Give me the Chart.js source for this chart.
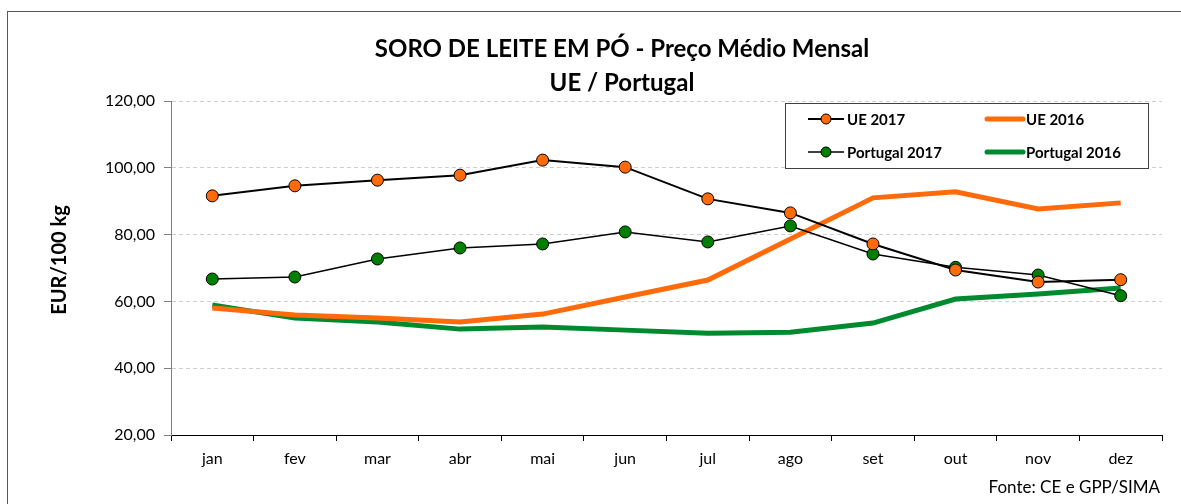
<!DOCTYPE html>
<html>
<head>
<meta charset="utf-8">
<script src="https://cdn.jsdelivr.net/npm/chart.js@4.4.1/dist/chart.umd.min.js"></script>
<style>
html, body { margin: 0; padding: 0; background: #fff; overflow: hidden; }
#wrap { position: relative; width: 1181px; height: 504px; }
#frame { position: absolute; left: 7px; top: 11px; width: 1200px; height: 600px; border: 1px solid #595959; }
#myChart { position: absolute; left: 0; top: 0; }
#title { position: absolute; left: 0; top: 31px; width: 1244px; text-align: center; font: bold 24px/34px Lato, sans-serif; color: #000; }
#ytitle { position: absolute; left: -42px; top: 248px; width: 200px; height: 24px; text-align: center; font: bold 20px/24px Lato, sans-serif; color: #000; transform: rotate(-90deg); }
#src { position: absolute; right: 21px; top: 476px; font: 17px Lato, sans-serif; color: #000; }
</style>
</head>
<body>
<div id="wrap">
  <div id="frame"></div>
  <canvas id="myChart" width="1181" height="504"></canvas>
  <div id="title">SORO DE LEITE EM PÓ - Preço Médio Mensal<br>UE / Portugal</div>
  <div id="ytitle">EUR/100 kg</div>
  <div id="src">Fonte: CE e GPP/SIMA</div>
</div>
<script>
// months
const months = ['jan', 'fev', 'mar', 'abr', 'mai', 'jun', 'jul', 'ago', 'set', 'out', 'nov', 'dez'];

// EUR/100 kg
const ue2017 = [91.6, 94.6, 96.3, 97.8, 102.3, 100.2, 90.7, 86.5, 77.2, 69.4, 65.8, 66.5];
const ue2016 = [58.0, 55.9, 55.0, 53.8, 56.2, 61.3, 66.4, 78.7, 91.0, 92.8, 87.7, 89.5];
const pt2017 = [66.7, 67.3, 72.7, 76.0, 77.2, 80.8, 77.8, 82.6, 74.2, 70.2, 67.9, 61.7];
const pt2016 = [58.9, 55.0, 53.8, 51.7, 52.3, 51.4, 50.5, 50.8, 53.5, 60.7, 62.2, 64.0];

const yTicks = [20, 40, 60, 80, 100, 120];

const ORANGE = '#FF6A0A';
const GREEN = '#008A30';
const FONT = 'Lato, sans-serif';

// legend drawn inside the plot, like the excel one
const legendBox = {
  id: 'legendBox',
  afterDatasetsDraw(chart) {
    const c = chart.ctx;
    const a = chart.chartArea;
    const x0 = a.right - 377, y0 = a.top + 2, w = 363, h = 65;
    c.save();
    c.fillStyle = '#fff';
    c.fillRect(x0, y0, w, h);
    c.strokeStyle = '#404040';
    c.lineWidth = 1;
    c.strokeRect(x0 + 0.5, y0 + 0.5, w, h);
    const slots = [[0, 0], [1, 0], [0, 1], [1, 1]];
    c.font = 'bold 15px ' + FONT;
    c.textBaseline = 'middle';
    chart.data.datasets.forEach((ds, i) => {
      const col = slots[i][0], row = slots[i][1];
      const lx = x0 + 23 + col * 179;
      const ly = y0 + 16 + row * 33;
      c.beginPath();
      c.moveTo(lx, ly);
      c.lineTo(lx + 36, ly);
      c.strokeStyle = ds.borderColor;
      c.lineWidth = ds.borderWidth;
      c.lineCap = ds.pointRadius ? 'butt' : 'round';
      c.stroke();
      if (ds.pointRadius) {
        c.beginPath();
        c.arc(lx + 18, ly, 5, 0, Math.PI * 2);
        c.fillStyle = ds.pointBackgroundColor;
        c.fill();
        c.lineWidth = 1;
        c.strokeStyle = '#000';
        c.stroke();
      }
      c.fillStyle = '#000';
      c.fillText(ds.label, lx + 39, ly + 1);
    });
    c.restore();
  }
};

const ctx = document.getElementById('myChart').getContext('2d');

const myChart = new Chart(ctx, {
  type: 'line',
  data: {
    labels: months,
    datasets: [{
      label: 'UE 2017',
      data: ue2017,
      borderColor: '#000',
      borderWidth: 2,
      pointRadius: 6,
      pointBackgroundColor: ORANGE,
      pointBorderColor: '#000',
      pointBorderWidth: 1,
      order: 1
    }, {
      label: 'UE 2016',
      data: ue2016,
      borderColor: ORANGE,
      borderWidth: 5,
      pointRadius: 0,
      order: 2
    }, {
      label: 'Portugal 2017',
      data: pt2017,
      borderColor: '#000',
      borderWidth: 1.5,
      pointRadius: 6,
      pointBackgroundColor: '#008000',
      pointBorderColor: '#000',
      pointBorderWidth: 1,
      order: 1
    }, {
      label: 'Portugal 2016',
      data: pt2016,
      borderColor: GREEN,
      borderWidth: 5,
      pointRadius: 0,
      order: 2
    }]
  },
  options: {
    responsive: false,
    animation: false,
    tension: 0,
    layout: { padding: { left: 40, right: 19, top: 101, bottom: 0 } },
    plugins: {
      legend: { display: false },
      tooltip: { enabled: false }
    },
    scales: {
      x: {
        offset: true,
        afterFit: s => { s.height = 69; },
        grid: { offset: true, drawOnChartArea: false, tickLength: 6, color: '#000', tickColor: '#000' },
        border: { color: '#000' },
        ticks: { color: '#000', padding: 8, font: { family: FONT, size: 16 } }
      },
      y: {
        min: 20,
        max: 120,
        afterFit: s => { s.width = 131; },
        afterBuildTicks: s => { s.ticks = yTicks.map(v => ({ value: v })); },
        grid: { color: '#cfcfcf', tickColor: '#808080', tickLength: 7 },
        border: { color: '#808080', dash: [4, 3] },
        ticks: {
          color: '#000',
          padding: 9,
          font: { family: FONT, size: 16 },
          callback: v => v.toFixed(2).replace('.', ',')
        }
      }
    }
  },
  plugins: [legendBox]
});
</script>
</body>
</html>
